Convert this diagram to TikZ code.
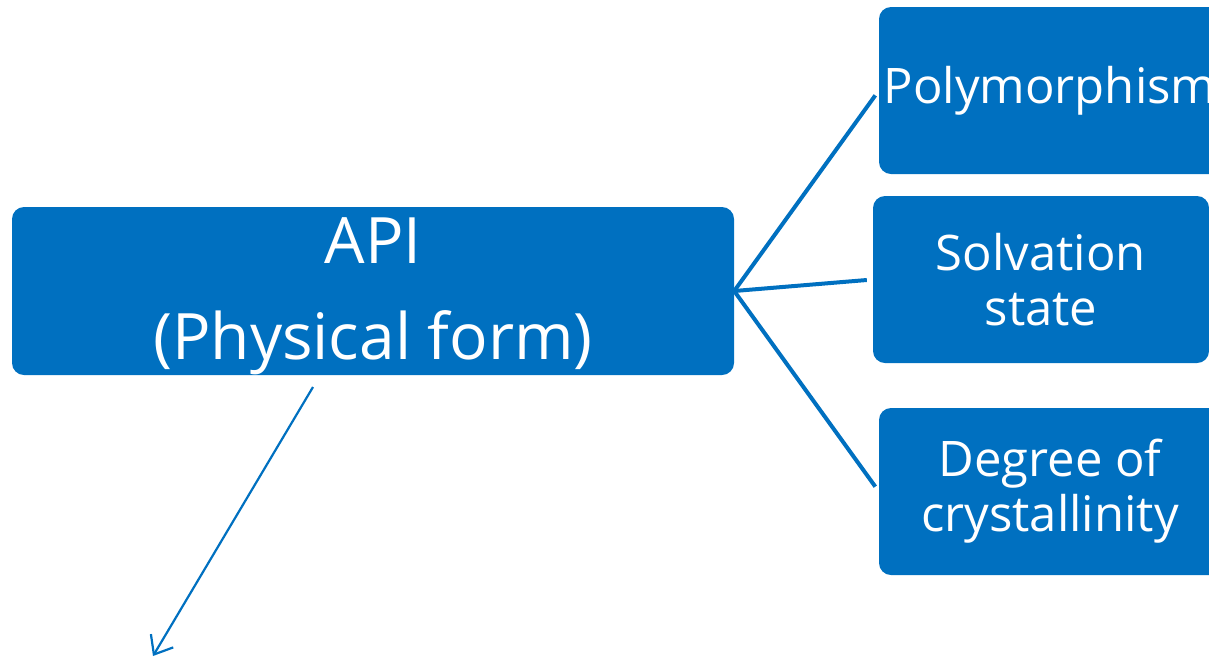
\documentclass[tikz,border=0pt]{standalone}
\usepackage{fontspec}
\setmainfont{Open Sans}
\usetikzlibrary{arrows.meta}
\definecolor{boxblue}{HTML}{0070C0}
\begin{document}
\begin{tikzpicture}[x=1pt,y=-1pt,
  box/.style={fill=boxblue,rounded corners=12pt,text=white,inner sep=0pt,align=center},
  conn/.style={draw=boxblue,line width=4pt,shorten >=6pt},
  arr/.style={draw=boxblue,line width=2.2pt,-{Straight Barb[length=16pt,width=26pt,line width=2.2pt]}}]
\useasboundingbox (0,0) rectangle (1209,657);
\begin{scope}
\clip (0,0) rectangle (1209,657);
\node[box,minimum width=722pt,minimum height=168pt] (api) at (373,291) {};
\node[text=white,align=center,inner sep=0pt,font=\fontsize{64}{96}\selectfont] (apitext) at (373,296) {API\\(Physical form)};
\node[box,minimum width=342pt,minimum height=167pt,font=\fontsize{49}{55}\selectfont] (poly) at (1050,90.5) {Polymorphism};
\node[box,minimum width=336pt,minimum height=167pt,font=\fontsize{49}{55}\selectfont] (solv) at (1041,279.5) {Solvation\\state};
\node[box,minimum width=342pt,minimum height=167pt,font=\fontsize{49}{55}\selectfont] (deg) at (1050,491.5) {Degree of\\crystallinity};
\end{scope}
\draw[conn] (api.east) -- (poly.west);
\draw[conn] (api.east) -- (solv.west);
\draw[conn] (api.east) -- (deg.west);
\coordinate (astart) at (313,387);
\coordinate (aend) at (153,656);
\draw[arr] (astart) -- (aend);
\end{tikzpicture}
\end{document}
